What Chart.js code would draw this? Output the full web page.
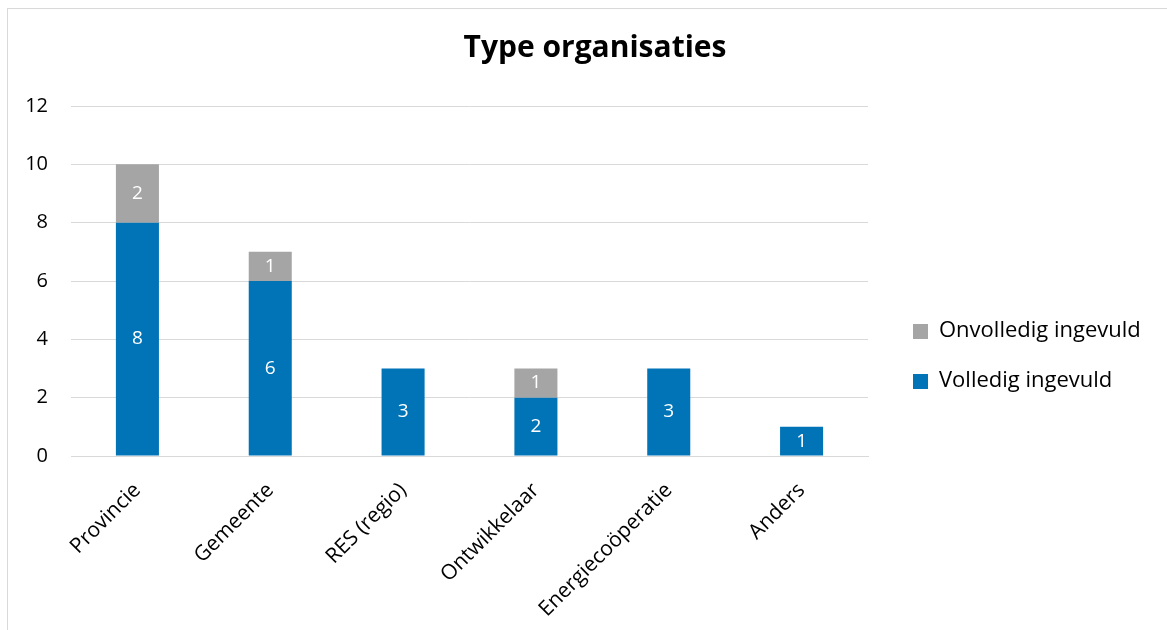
<!DOCTYPE html>
<html>
<head>
<meta charset="utf-8">
<script src="https://cdn.jsdelivr.net/npm/chart.js@4"></script>
<style>
  html, body { margin: 0; padding: 0; background: #fff; overflow: hidden; }
  #kader { position: absolute; left: 7px; top: 8px; width: 1200px; height: 700px; border: 1px solid #d9d9d9; }
  #wrap { position: absolute; left: 0; top: 0; width: 1167px; height: 630px; }
</style>
</head>
<body>
<div id="kader"></div>
<div id="wrap"><canvas id="chartOrganisaties"></canvas></div>
<script>
// Gegevens
const categorieen = ['Provincie', 'Gemeente', 'RES (regio)', 'Ontwikkelaar', 'Energiecoöperatie', 'Anders'];
const volledig = [8, 6, 3, 2, 3, 1];
const onvolledig = [2, 1, 0, 1, 0, 0];
const yTicks = [0, 2, 4, 6, 8, 10, 12];

const kleuren = ['#0173B7', '#A5A5A5'];
const fontNaam = '"Open Sans", Calibri, sans-serif';

// Legendasymbool: vierkantje rechts in een breder vlak (geeft ruimte links)
function maakSymbool(kleur) {
  const c = document.createElement('canvas');
  c.width = 32;
  c.height = 15;
  const g = c.getContext('2d');
  g.fillStyle = kleur;
  g.fillRect(17, 0, 15, 15);
  return c;
}
const symbolen = kleuren.map(maakSymbool);

// Waarden in de staven tekenen
const waardeLabels = {
  id: 'waardeLabels',
  afterDatasetsDraw(chart) {
    const ctx = chart.ctx;
    ctx.save();
    ctx.fillStyle = '#ffffff';
    ctx.font = '19px ' + fontNaam;
    ctx.textAlign = 'center';
    ctx.textBaseline = 'middle';
    chart.data.datasets.forEach((ds, i) => {
      const meta = chart.getDatasetMeta(i);
      meta.data.forEach((bar, j) => {
        const v = ds.data[j];
        if (!v) return;
        const p = bar.getProps(['x', 'y', 'base'], true);
        ctx.fillText(String(v), p.x, (p.y + p.base) / 2);
      });
    });
    ctx.restore();
  }
};

function maakGrafiek() {
  const ctx = document.getElementById('chartOrganisaties').getContext('2d');

  return new Chart(ctx, {
    type: 'bar',
    data: {
      labels: categorieen,
      datasets: [
        {
          label: 'Volledig ingevuld',
          data: volledig,
          backgroundColor: kleuren[0],
          borderWidth: 0
        },
        {
          label: 'Onvolledig ingevuld',
          data: onvolledig,
          backgroundColor: kleuren[1],
          borderWidth: 0
        }
      ]
    },
    options: {
      responsive: true,
      maintainAspectRatio: false,
      animation: false,
      layout: {
        padding: { left: 24, right: 1, top: 10, bottom: 14 }
      },
      datasets: {
        bar: { categoryPercentage: 1, barPercentage: 0.324 }
      },
      scales: {
        x: {
          stacked: true,
          grid: { display: false, drawTicks: false },
          border: { display: true, color: '#d9d9d9', width: 1 },
          ticks: {
            color: '#000',
            font: { family: fontNaam, size: 21 },
            minRotation: 45,
            maxRotation: 45,
            padding: 22
          },
          afterFit(scale) {
            scale.paddingLeft = 0;
            // ruimte rechts voor legenda + marge
            scale.paddingRight = 299;
            scale.height = 160;
          }
        },
        y: {
          stacked: true,
          min: 0,
          max: 12,
          afterBuildTicks(axis) {
            axis.ticks = yTicks.map(v => ({ value: v }));
          },
          grid: { color: '#d9d9d9', lineWidth: 1, drawTicks: false },
          border: { display: false },
          ticks: {
            color: '#000',
            font: { family: fontNaam, size: 20 },
            padding: 23
          },
          afterFit(scale) {
            scale.width = 47;
          }
        }
      },
      plugins: {
        title: {
          display: true,
          text: 'Type organisaties',
          color: '#000',
          font: { family: fontNaam, size: 30, weight: 'bold' },
          padding: { top: 20, bottom: 40 }
        },
        legend: {
          position: 'right',
          reverse: true,
          // lege titel schuift de items omlaag
          title: {
            display: true,
            text: ' ',
            padding: { top: 72, bottom: 0 }
          },
          labels: {
            color: '#000',
            font: { family: fontNaam, size: 22 },
            usePointStyle: true,
            pointStyleWidth: 32,
            boxHeight: 15,
            padding: 28,
            generateLabels(chart) {
              const items = Chart.defaults.plugins.legend.labels.generateLabels(chart);
              items.forEach(it => { it.pointStyle = symbolen[it.datasetIndex]; });
              return items;
            }
          }
        },
        tooltip: { enabled: false }
      }
    },
    plugins: [waardeLabels]
  });
}

// eerst de lettertypen laden, anders kloppen de tekstmaten niet
Promise.all([
  document.fonts.load('20px "Open Sans"'),
  document.fonts.load('bold 30px "Open Sans"')
]).then(maakGrafiek, maakGrafiek);
</script>
</body>
</html>
